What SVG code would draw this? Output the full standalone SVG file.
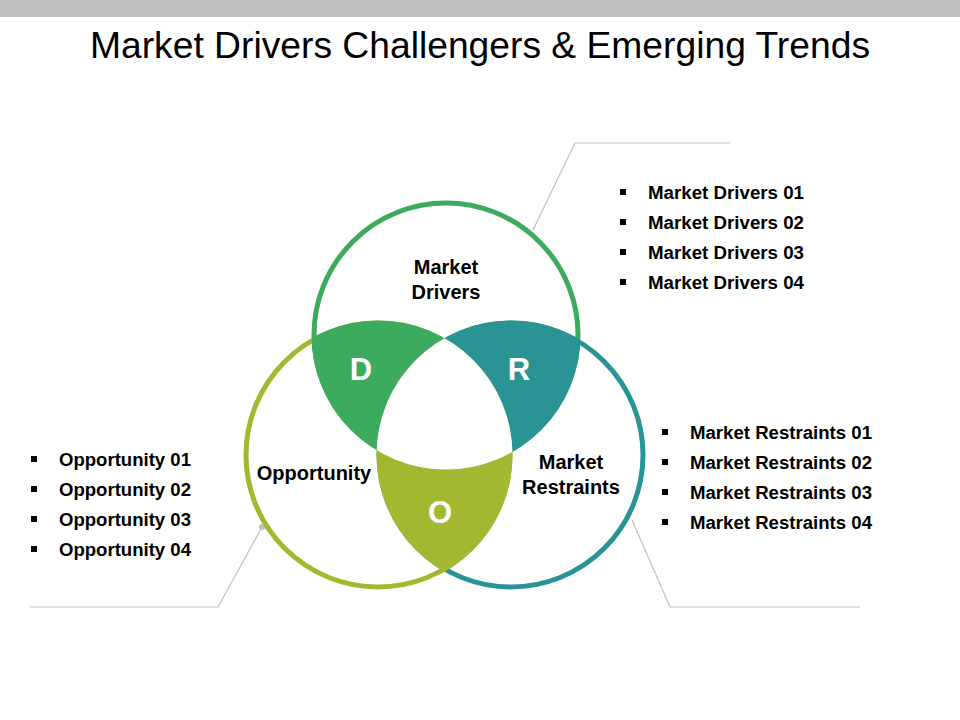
<svg xmlns="http://www.w3.org/2000/svg" width="960" height="720" viewBox="0 0 960 720">
<style>
text{font-family:"Liberation Sans",Arial,sans-serif;fill:#000}
.t{font-size:20px;font-weight:bold}
.b{font-size:18px;font-weight:bold}
.big{font-size:31px;font-weight:bold;fill:#fff}
.ln{fill:none;stroke:#bfbfbf;stroke-width:1.2}
.sq{fill:#000}
</style>
<defs>
<clipPath id="cT"><circle cx="446" cy="335" r="134.5"/></clipPath>
<clipPath id="cL"><circle cx="378" cy="455" r="134.5"/></clipPath>
<clipPath id="cR"><circle cx="511" cy="455" r="134.5"/></clipPath>
</defs>
<rect x="0" y="0" width="960" height="17" fill="#bfbfbf"/>
<text x="480" y="58" text-anchor="middle" style="font-size:36px" textLength="780" lengthAdjust="spacingAndGlyphs">Market Drivers Challengers &amp; Emerging Trends</text>
<g id="connectors">
<polyline class="ln" points="533,230 575,143 730,143"/>
<polyline class="ln" points="632,520 670,607 860,607"/>
<polyline class="ln" points="262,527 218,607 30,607"/>
<circle cx="262" cy="527" r="3" fill="#bfbfbf"/>
</g>
<g id="node-drivers"><circle cx="446" cy="335" r="132" fill="none" stroke="#3dab5e" stroke-width="5"/></g>
<g id="node-restraints"><circle cx="511" cy="455" r="132" fill="none" stroke="#2a9494" stroke-width="5"/></g>
<g id="node-opportunity"><circle cx="378" cy="455" r="132" fill="none" stroke="#a3b830" stroke-width="5"/></g>
<g id="fills">
<g clip-path="url(#cT)"><circle cx="378" cy="455" r="134.5" fill="#3dab5e"/></g>
<g clip-path="url(#cT)"><circle cx="511" cy="455" r="134.5" fill="#2a9494"/></g>
<g clip-path="url(#cL)"><circle cx="511" cy="455" r="134.5" fill="#a3b830"/></g>
<g clip-path="url(#cT)"><g clip-path="url(#cL)"><circle cx="511" cy="455" r="134.5" fill="#fff"/></g></g>
</g>
<g id="labels">
<text class="t" x="446" y="274" text-anchor="middle">Market</text><text class="t" x="446" y="299" text-anchor="middle">Drivers</text>
<text class="big" x="361" y="380" text-anchor="middle">D</text>
<text class="t" x="571" y="469" text-anchor="middle">Market</text><text class="t" x="571" y="494" text-anchor="middle">Restraints</text>
<text class="big" x="519" y="380" text-anchor="middle">R</text>
<text class="t" x="314" y="480" text-anchor="middle">Opportunity</text>
<text class="big" x="440" y="523" text-anchor="middle">O</text>
</g>
<g id="list-drivers">
<rect class="sq" x="620" y="189" width="6" height="6"/><text class="b" x="648" y="199" textLength="156" lengthAdjust="spacingAndGlyphs">Market Drivers 01</text>
<rect class="sq" x="620" y="219" width="6" height="6"/><text class="b" x="648" y="229" textLength="156" lengthAdjust="spacingAndGlyphs">Market Drivers 02</text>
<rect class="sq" x="620" y="249" width="6" height="6"/><text class="b" x="648" y="259" textLength="156" lengthAdjust="spacingAndGlyphs">Market Drivers 03</text>
<rect class="sq" x="620" y="279" width="6" height="6"/><text class="b" x="648" y="289" textLength="156" lengthAdjust="spacingAndGlyphs">Market Drivers 04</text>
</g>
<g id="list-restraints">
<rect class="sq" x="662" y="429" width="6" height="6"/><text class="b" x="690" y="439" textLength="182" lengthAdjust="spacingAndGlyphs">Market Restraints 01</text>
<rect class="sq" x="662" y="459" width="6" height="6"/><text class="b" x="690" y="469" textLength="182" lengthAdjust="spacingAndGlyphs">Market Restraints 02</text>
<rect class="sq" x="662" y="489" width="6" height="6"/><text class="b" x="690" y="499" textLength="182" lengthAdjust="spacingAndGlyphs">Market Restraints 03</text>
<rect class="sq" x="662" y="519" width="6" height="6"/><text class="b" x="690" y="529" textLength="182" lengthAdjust="spacingAndGlyphs">Market Restraints 04</text>
</g>
<g id="list-opportunity">
<rect class="sq" x="31" y="456" width="6" height="6"/><text class="b" x="59" y="466" textLength="132" lengthAdjust="spacingAndGlyphs">Opportunity 01</text>
<rect class="sq" x="31" y="486" width="6" height="6"/><text class="b" x="59" y="496" textLength="132" lengthAdjust="spacingAndGlyphs">Opportunity 02</text>
<rect class="sq" x="31" y="516" width="6" height="6"/><text class="b" x="59" y="526" textLength="132" lengthAdjust="spacingAndGlyphs">Opportunity 03</text>
<rect class="sq" x="31" y="546" width="6" height="6"/><text class="b" x="59" y="556" textLength="132" lengthAdjust="spacingAndGlyphs">Opportunity 04</text>
</g>
</svg>
